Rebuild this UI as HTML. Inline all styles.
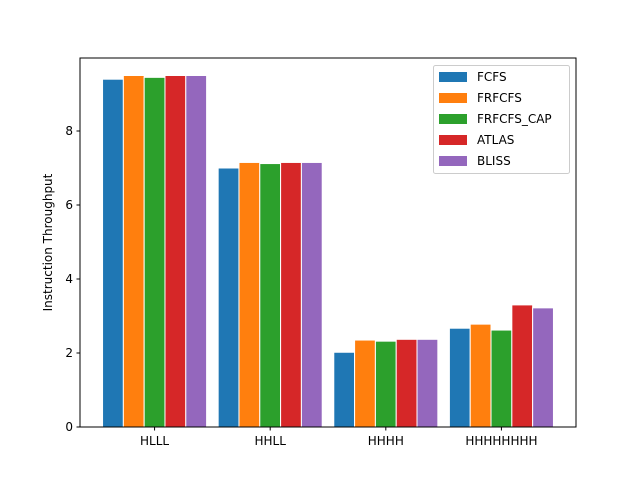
<!DOCTYPE html>
<html><head><meta charset="utf-8"><style>
body{margin:0;background:#fff}
svg text{font-family:"DejaVu Sans","Liberation Sans",sans-serif;font-size:12px;fill:#000}
</style></head><body>
<svg id="chart" width="640" height="480" xmlns="http://www.w3.org/2000/svg">
<rect width="640" height="480" fill="#fff"/>
<g id="bars"></g>
<g id="axes"></g>
<g id="legend"></g>
</svg>
<script>
const categories=["HLLL","HHLL","HHHH","HHHHHHHH"];
const seriesNames=["FCFS","FRFCFS","FRFCFS_CAP","ATLAS","BLISS"];
const colors=["#1f77b4","#ff7f0e","#2ca02c","#d62728","#9467bd"];
const fcfs=[9.4,7.0,2.02,2.67];
const frfcfs=[9.5,7.15,2.35,2.78];
const frfcfsCap=[9.45,7.12,2.32,2.62];
const atlas=[9.5,7.15,2.37,3.3];
const bliss=[9.5,7.15,2.37,3.22];
const series=[fcfs,frfcfs,frfcfsCap,atlas,bliss];
const yTicks=[0,2,4,6,8];

const NS="http://www.w3.org/2000/svg";
const L=80,R=576,T=58,B=427;
const xmin=-0.645,xmax=3.645,ymax=(B-T)/37;
const xs=v=>L+(v-xmin)/(xmax-xmin)*(R-L);
const ys=v=>B-v/ymax*(B-T);
const bw=0.18;
function mk(tag,attrs,parent){const e=document.createElementNS(NS,tag);for(const k in attrs)e.setAttribute(k,attrs[k]);parent.appendChild(e);return e;}
const gb=document.getElementById('bars');
series.forEach((s,si)=>{s.forEach((v,ci)=>{
  const x0=xs(ci+(si-2)*bw-bw/2),x1=xs(ci+(si-2)*bw+bw/2);
  const r=mk('rect',{x:x0,y:ys(v),width:x1-x0,height:ys(0)-ys(v),fill:colors[si],stroke:'#fff','stroke-width':1},gb);
  
  
});});
const ga=document.getElementById('axes');
const fr=mk('rect',{x:L,y:T,width:R-L,height:B-T,fill:'none',stroke:'#000','stroke-width':1},ga);


yTicks.forEach(t=>{
  mk('line',{x1:L-3.5,x2:L,y1:ys(t),y2:ys(t),stroke:'#000'},ga);
  const tx=mk('text',{x:L-7,y:ys(t)+4,'text-anchor':'end'},ga);tx.textContent=t;
  
  
});
categories.forEach((c,i)=>{
  mk('line',{x1:xs(i),x2:xs(i),y1:B,y2:B+3.5,stroke:'#000'},ga);
  const tx=mk('text',{x:xs(i),y:B+18,'text-anchor':'middle'},ga);tx.textContent=c;
  
  
});
const yl=mk('text',{x:0,y:0,'text-anchor':'middle',transform:`translate(52,${(T+B)/2}) rotate(-90)`},ga);
yl.textContent='Instruction Throughput';


const gl=document.getElementById('legend');
const lb=mk('rect',{x:433.5,y:65.5,width:136,height:108,rx:2,fill:'#fff','fill-opacity':0.8,stroke:'#ccc'},gl);


seriesNames.forEach((n,i)=>{
  const y=76+i*21;
  const p=mk('rect',{x:439,y:y-4,width:28,height:10,fill:colors[i]},gl);
  
  
  const tx=mk('text',{x:477,y:y+5},gl);tx.textContent=n;
  
  
});
</script>
</body></html>
